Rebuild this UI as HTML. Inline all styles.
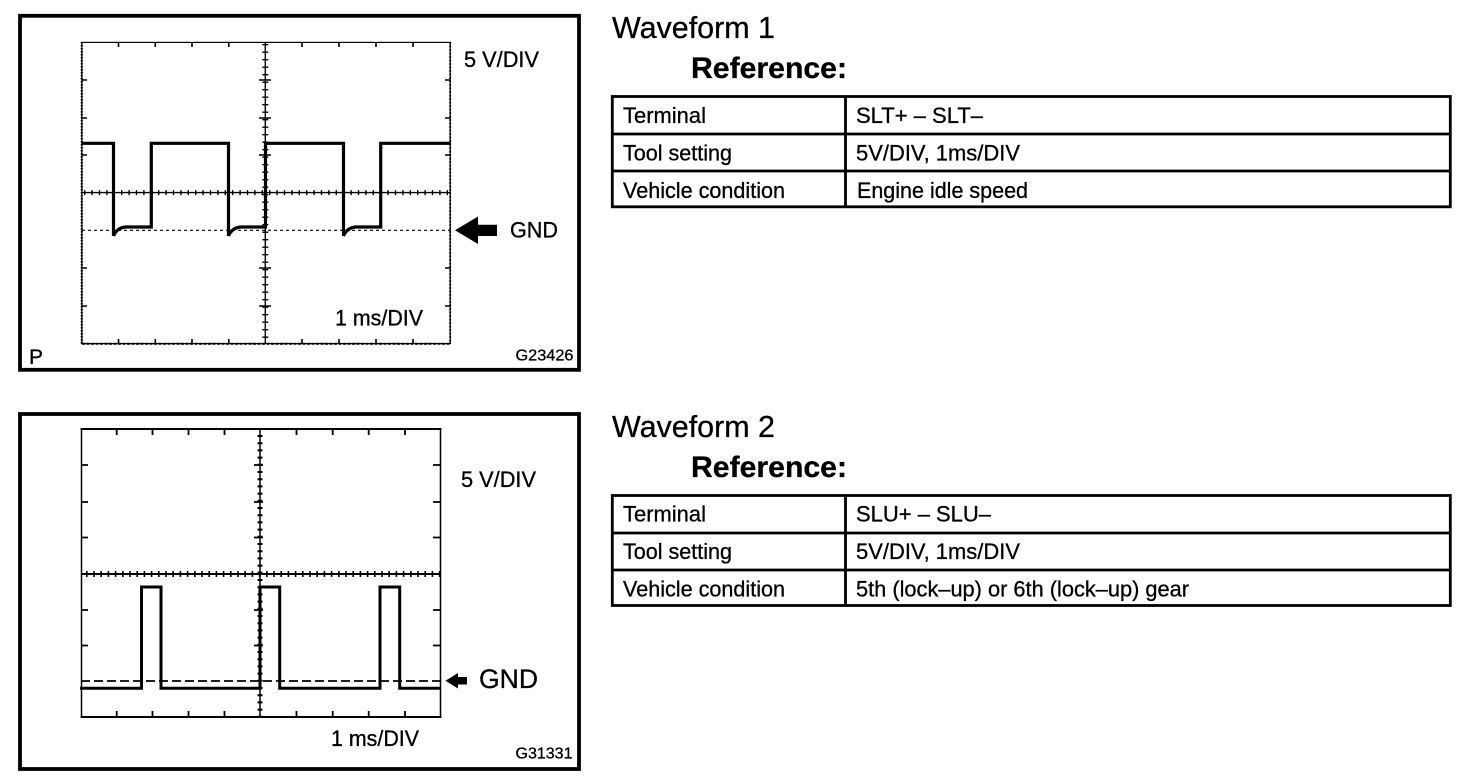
<!DOCTYPE html>
<html><head><meta charset="utf-8"><style>
html,body{margin:0;padding:0;background:#fff;width:1472px;height:782px;overflow:hidden}
svg{display:block}
text{font-family:"Liberation Sans",sans-serif;fill:#000;stroke:#000;stroke-width:.3}
.f{fill:none;stroke:#000}
</style></head><body>
<svg width="1472" height="782" viewBox="0 0 1472 782" xmlns="http://www.w3.org/2000/svg">
<!-- Panel 1 -->
<rect class="f" x="20" y="15.8" width="559" height="354" stroke-width="3.8"/>
<rect class="f" x="81.8" y="42.4" width="368.4" height="301.2" stroke-width="1.2"/>
<g class="f">
<line x1="81.8" y1="42" x2="81.8" y2="344" stroke-width="2.2" stroke-dasharray="1.5 1.5"/>
<line x1="82" y1="343.7" x2="450" y2="343.7" stroke-width="2" stroke-dasharray="3 1.5"/>
<line x1="450.2" y1="42" x2="450.2" y2="344" stroke-width="1.8" stroke-dasharray="2 1.5"/>
<line x1="265.3" y1="42" x2="265.3" y2="344" stroke-width="1.4"/>
<line x1="265.3" y1="44" x2="265.3" y2="344" stroke-width="6" stroke-dasharray="1.4 6.1"/>
<line x1="82" y1="192.6" x2="450" y2="192.6" stroke-width="1.4"/>
<line x1="84" y1="192.6" x2="450" y2="192.6" stroke-width="5" stroke-dasharray="1.4 6"/>
<line x1="82" y1="230.3" x2="450" y2="230.3" stroke-width="1.2" stroke-dasharray="3 3"/>
<path stroke-width="1.6" d="M118.5 42v5M155.3 42v5M192 42v5M228.8 42v5M302 42v5M339 42v5M376 42v5M413 42v5M118.5 344v-5M155.3 344v-5M192 344v-5M228.8 344v-5M302 344v-5M339 344v-5M376 344v-5M413 344v-5M82 80h5M82 118h5M82 155h5M82 268h5M82 306h5M450 80h-5M450 118h-5M450 155h-5M450 268h-5M450 306h-5M259 80h12M259 118h12M259 155h12M259 268h12M259 306h12"/>
<path stroke-width="3.2" d="M82 143.3H113.5V236M113.5 236Q117 227.5 126 227H151.3V143.3H228.5V236M228.5 236Q232 227.5 241 227H265.5V143.3H343.5V236M343.5 236Q347 227.5 356 227H380.7V143.3H450"/>
</g>
<path d="M455 230.3L478 216.5V224.7H497V236H478V244Z"/>
<text x="464" y="67" font-size="22" textLength="75" lengthAdjust="spacingAndGlyphs">5 V/DIV</text>
<text x="510" y="237.5" font-size="22" textLength="48" lengthAdjust="spacingAndGlyphs">GND</text>
<text x="335" y="325.5" font-size="22" textLength="88" lengthAdjust="spacingAndGlyphs">1 ms/DIV</text>
<text x="515.5" y="360.5" font-size="15.5" textLength="58" lengthAdjust="spacingAndGlyphs">G23426</text>
<text x="29" y="364" font-size="21" textLength="14" lengthAdjust="spacingAndGlyphs">P</text>

<!-- Panel 2 -->
<rect class="f" x="20" y="414" width="559" height="355" stroke-width="3.8"/>
<path class="f" stroke-width="1.5" d="M81.5 429V717M440.5 429V717"/>
<path class="f" stroke-width="2" d="M80.5 429H441.5M80.5 717H441.5"/>
<g class="f">
<line x1="260" y1="429" x2="260" y2="717" stroke-width="1.5"/>
<line x1="260" y1="435" x2="260" y2="717" stroke-width="5" stroke-dasharray="2 5.2"/>
<line x1="81" y1="574" x2="440" y2="574" stroke-width="2"/>
<line x1="86" y1="574" x2="440" y2="574" stroke-width="6" stroke-dasharray="1.6 5.6"/>
<line x1="81" y1="681" x2="440" y2="681" stroke-width="1.7" stroke-dasharray="9 4"/>
<path stroke-width="1.8" d="M116.7 429v6M152.5 429v6M188.5 429v6M224.5 429v6M296.5 429v6M332.7 429v6M368.7 429v6M405 429v6M116.7 717v-6M152.5 717v-6M188.5 717v-6M224.5 717v-6M296.5 717v-6M332.7 717v-6M368.7 717v-6M405 717v-6M81 465h7M81 502h7M81 537.5h7M81 610h7M81 645.5h7M440 465h-7M440 502h-7M440 537.5h-7M440 610h-7M440 645.5h-7M254 465h9M254 502h9M254 537.5h9M254 610h9M254 645.5h9"/>
<path stroke-width="3" d="M80 688.3H141.5V587H161V688.3H260V587H279.7V688.3H380V587H399.7V688.3H440"/>
</g>
<path d="M445.5 680.7L458 673V677H467V684.5H458V688.5Z"/>
<text x="461" y="487" font-size="22" textLength="75" lengthAdjust="spacingAndGlyphs">5 V/DIV</text>
<text x="479" y="688" font-size="27" textLength="59" lengthAdjust="spacingAndGlyphs">GND</text>
<text x="331" y="746" font-size="22" textLength="88" lengthAdjust="spacingAndGlyphs">1 ms/DIV</text>
<text x="515.5" y="758.5" font-size="15.5" textLength="57" lengthAdjust="spacingAndGlyphs">G31331</text>

<!-- Right 1 -->
<text x="612" y="38" font-size="31" textLength="163" lengthAdjust="spacingAndGlyphs">Waveform 1</text>
<text x="691" y="78" font-size="30" font-weight="bold" textLength="156" lengthAdjust="spacingAndGlyphs">Reference:</text>
<g class="f" stroke-width="2.8">
<rect x="612.3" y="96.5" width="838" height="110.3"/>
<path d="M612 134H1451M612 171H1451M845.5 96V207"/>
</g>
<g font-size="22.5">
<text x="623" y="123" textLength="83" lengthAdjust="spacingAndGlyphs">Terminal</text>
<text x="623" y="160.5" textLength="109" lengthAdjust="spacingAndGlyphs">Tool setting</text>
<text x="623" y="198" textLength="162" lengthAdjust="spacingAndGlyphs">Vehicle condition</text>
<text x="856" y="123" textLength="127" lengthAdjust="spacingAndGlyphs">SLT+ – SLT–</text>
<text x="856" y="160.5" textLength="164" lengthAdjust="spacingAndGlyphs">5V/DIV, 1ms/DIV</text>
<text x="857" y="198" textLength="171" lengthAdjust="spacingAndGlyphs">Engine idle speed</text>
</g>

<!-- Right 2 -->
<text x="612" y="437" font-size="31" textLength="163" lengthAdjust="spacingAndGlyphs">Waveform 2</text>
<text x="691" y="477" font-size="30" font-weight="bold" textLength="156" lengthAdjust="spacingAndGlyphs">Reference:</text>
<g class="f" stroke-width="2.8">
<rect x="612.3" y="495.5" width="838" height="110"/>
<path d="M612 533H1451M612 570H1451M845.5 495V606"/>
</g>
<g font-size="22.5">
<text x="623" y="521.5" textLength="83" lengthAdjust="spacingAndGlyphs">Terminal</text>
<text x="623" y="559" textLength="109" lengthAdjust="spacingAndGlyphs">Tool setting</text>
<text x="623" y="596.5" textLength="162" lengthAdjust="spacingAndGlyphs">Vehicle condition</text>
<text x="856" y="521.5" textLength="135" lengthAdjust="spacingAndGlyphs">SLU+ – SLU–</text>
<text x="856" y="559" textLength="164" lengthAdjust="spacingAndGlyphs">5V/DIV, 1ms/DIV</text>
<text x="856" y="596.5" textLength="333" lengthAdjust="spacingAndGlyphs">5th (lock–up) or 6th (lock–up) gear</text>
</g>
</svg>
</body></html>
